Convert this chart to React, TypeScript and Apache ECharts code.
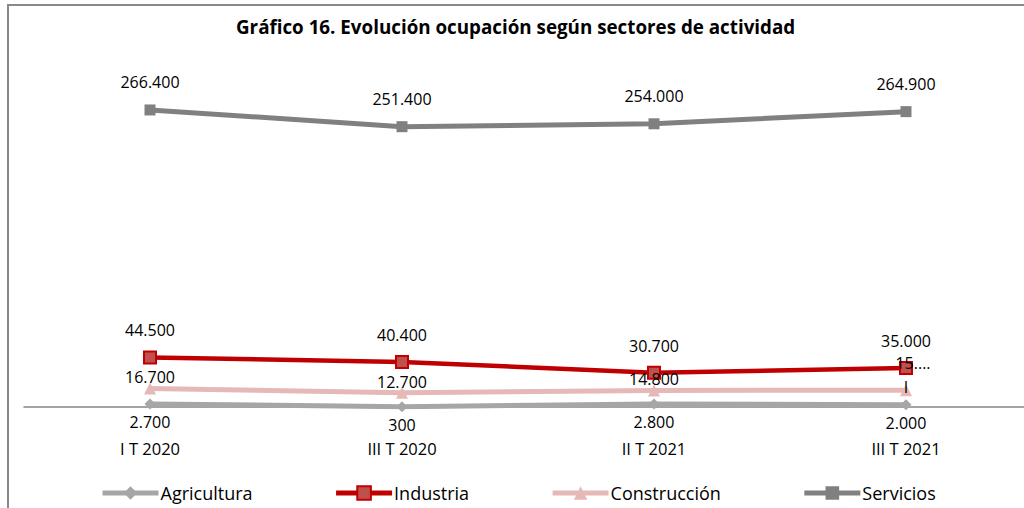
import React, { useEffect, useRef } from "react";
import * as echarts from "echarts";

const TITLE = "Gráfico 16. Evolución ocupación según sectores de actividad";
const categories = ["I T 2020", "III T 2020", "II T 2021", "III T 2021"];
const agricultura = [2700, 300, 2800, 2000];
const industria = [44500, 40400, 30700, 35000];
const construccion = [16700, 12700, 14800, 15100];
const servicios = [266400, 251400, 254000, 264900];
// the last Construcción label is shown truncated in the reference
const truncatedConstruccionLabel = "{a|15....}\n{b|I}";

const FONT = "'Open Sans', 'Noto Sans', sans-serif";

const fmt = (v: number) =>
  Math.round(v)
    .toString()
    .replace(/\B(?=(\d{3})+(?!\d))/g, ".");

export default function App() {
  const ref = useRef<HTMLDivElement>(null);
  useEffect(() => {
    if (!ref.current) return;
    const chart = echarts.init(ref.current, null, { renderer: "svg" });
    const labelBase = { show: true, color: "#000", fontFamily: FONT, fontSize: 16, lineHeight: 16 };
    const lastIdx = construccion.length - 1;
    chart.setOption({
      animation: false,
      backgroundColor: "#fff",
      title: {
        text: TITLE,
        left: 231,
        top: 12,
        textStyle: { fontFamily: FONT, fontSize: 18.8, fontWeight: "bold", color: "#000" },
      },
      graphic: [
        { type: "line", shape: { x1: 8, y1: 5, x2: 1032, y2: 5 }, style: { stroke: "#888", lineWidth: 2 } },
        { type: "line", shape: { x1: 8, y1: 4, x2: 8, y2: 508 }, style: { stroke: "#888", lineWidth: 2 } },
      ],
      legend: {
        left: 95,
        top: 479,
        itemWidth: 56,
        itemHeight: 17,
        itemGap: 81,
        lineStyle: { width: 5 },
        textStyle: { fontFamily: FONT, fontSize: 18, color: "#000", padding: [0, 0, 0, -3] },
        data: ["Agricultura", "Industria", "Construcción", "Servicios"],
      },
      grid: { left: 24, right: 0, top: 72.5, bottom: 101 },
      xAxis: {
        type: "category",
        data: categories,
        boundaryGap: true,
        axisLine: { lineStyle: { color: "#868686", width: 1.5 } },
        axisTick: { show: false },
        axisLabel: { margin: 33, fontFamily: FONT, fontSize: 16.5, color: "#000" },
      },
      yAxis: {
        type: "value",
        min: 0,
        max: 300000,
        show: false,
        splitLine: { show: false },
      },
      series: [
        {
          name: "Agricultura",
          type: "line",
          data: agricultura,
          symbol: "diamond",
          symbolSize: 11,
          color: "#A6A6A6",
          lineStyle: { width: 5, color: "#A6A6A6" },
          label: { ...labelBase, position: "bottom", distance: 5, formatter: (p: any) => fmt(p.value) },
          z: 2,
        },
        {
          name: "Industria",
          type: "line",
          data: industria,
          symbol: "rect",
          symbolSize: 12,
          color: "#C00000",
          itemStyle: { color: "#C0504D", borderColor: "#C00000", borderWidth: 2 },
          lineStyle: { width: 4.5, color: "#C00000" },
          label: { ...labelBase, position: "top", distance: 12, formatter: (p: any) => fmt(p.value) },
          z: 3,
        },
        {
          name: "Construcción",
          type: "line",
          data: construccion.map((v, i) =>
            i === lastIdx
              ? {
                  value: v,
                  label: {
                    distance: -15,
                    formatter: truncatedConstruccionLabel,
                    rich: {
                      a: { fontFamily: FONT, fontSize: 16, lineHeight: 24, color: "#000", padding: [0, 0, 0, 14] },
                      b: { fontFamily: FONT, fontSize: 16, lineHeight: 24, color: "#000" },
                    },
                  },
                }
              : v
          ),
          symbol: "triangle",
          symbolSize: 12,
          color: "#E6B9B8",
          lineStyle: { width: 5, color: "#E6B9B8" },
          label: {
            ...labelBase,
            position: "top",
            distance: -3,
            formatter: (p: any) => fmt(p.value),
          },
          z: 4,
        },
        {
          name: "Servicios",
          type: "line",
          data: servicios,
          symbol: "rect",
          symbolSize: 11,
          color: "#808080",
          lineStyle: { width: 5, color: "#808080" },
          label: { ...labelBase, position: "top", distance: 14, formatter: (p: any) => fmt(p.value) },
          z: 5,
        },
      ],
    });
    return () => chart.dispose();
  }, []);
  return (
    <div style={{ position: "fixed", left: 0, top: 0, width: 1024, height: 508, overflow: "hidden", background: "#fff" }}>
      <div ref={ref} style={{ width: 1032, height: 508 }} />
    </div>
  );
}
